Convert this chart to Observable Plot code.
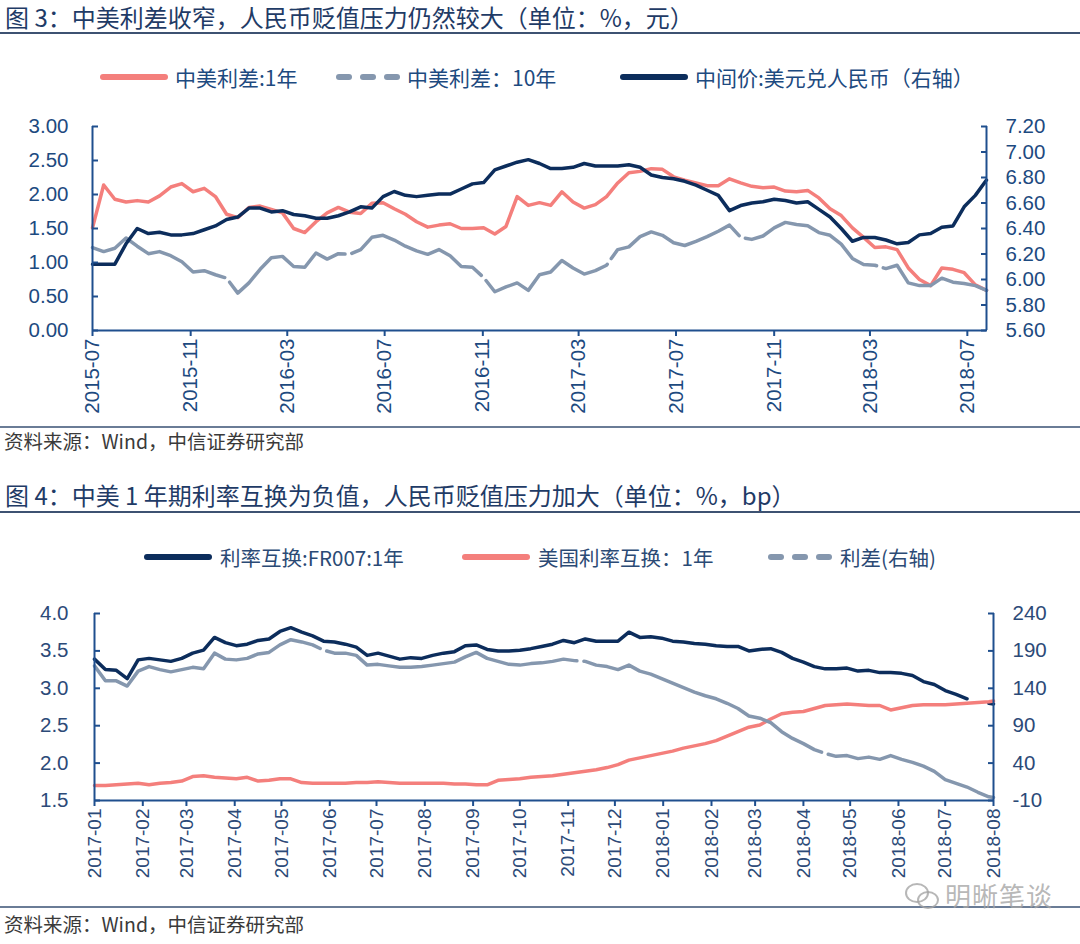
<!DOCTYPE html>
<html><head><meta charset="utf-8">
<script src="https://cdn.jsdelivr.net/npm/d3@7"></script>
<script src="https://cdn.jsdelivr.net/npm/@observablehq/plot@0.6"></script>
<style>
body{margin:0;background:#fff;}
#page{position:relative;width:1080px;height:944px;overflow:hidden;font-family:"Noto Sans CJK SC","Noto Sans",sans-serif;background:#fff;}
.abs{position:absolute;}
.title{left:5px;font-size:24px;color:#1f3b66;white-space:nowrap;line-height:30px;}
.rule{left:0;width:1080px;}
.src{left:4px;font-size:19.5px;color:#3a3a3a;line-height:24px;white-space:nowrap;}
.item{display:flex;align-items:center;white-space:nowrap;height:30px;}
.sw{display:inline-block;height:6px;border-radius:3px;}
.dash{display:inline-flex;gap:8px;}
.dash span{display:inline-block;width:16px;height:6px;border-radius:3px;}
.lt{font-size:21px;color:#1d4a80;margin-left:7px;}
.lt2{font-size:20.5px;color:#2b4a75;margin-left:8px;}
.wm{left:905px;top:876px;display:flex;align-items:center;gap:6px;color:rgba(165,165,165,0.8);font-size:26px;letter-spacing:1px;}
.wm .ic{position:relative;width:34px;height:28px;}
.wm .ic span{position:absolute;border:2px solid rgba(165,165,165,0.8);border-radius:50%;}
</style>
</head>
<body>
<div id="page">
  <div class="abs title" style="top:2px;">图 3：中美利差收窄，人民币贬值压力仍然较大（单位：%，元）</div>
  <div class="abs rule" style="top:32px;height:2px;background:#3d5272;"></div>
  <div id="legend3"></div>
  <div id="chart3" class="abs" style="left:0;top:100px;"></div>
  <div class="abs rule" style="top:426px;height:1.5px;background:#6a7c96;"></div>
  <div class="abs src" style="top:429px;">资料来源：Wind，中信证券研究部</div>

  <div class="abs title" style="top:480px;">图 4：中美 1 年期利率互换为负值，人民币贬值压力加大（单位：%，bp）</div>
  <div class="abs rule" style="top:511px;height:2px;background:#3d5272;"></div>
  <div id="legend4"></div>
  <div id="chart4" class="abs" style="left:0;top:590px;"></div>
  <div class="abs rule" style="top:906px;height:1.5px;background:#6a7c96;"></div>
  <div class="abs src" style="top:912px;">资料来源：Wind，中信证券研究部</div>
  <div class="abs wm"><div class="ic"><span style="left:0;top:2px;width:20px;height:16px;"></span><span style="left:12px;top:10px;width:18px;height:14px;"></span></div><span>明晰笔谈</span></div>
</div>
<script>
// ---------- Figure 3 data (biweekly observations from 2015-07-01) ----------
const fig3FirstDate = "2015-07-01";
const fig3StepDays = 14;
const fig3Spread1Y = [1.51,2.14,1.93,1.89,1.91,1.89,1.98,2.11,2.16,2.04,
  2.09,1.97,1.71,1.66,1.81,1.83,1.78,1.73,1.50,1.44,
  1.60,1.73,1.81,1.74,1.72,1.87,1.88,1.79,1.71,1.60,
  1.52,1.55,1.57,1.50,1.50,1.51,1.42,1.53,1.97,1.84,
  1.88,1.84,2.04,1.89,1.80,1.85,1.97,2.17,2.32,2.34,
  2.38,2.37,2.26,2.21,2.17,2.13,2.13,2.23,2.17,2.12,
  2.10,2.11,2.05,2.04,2.06,1.95,1.79,1.69,1.51,1.37,
  1.22,1.23,1.19,0.92,0.75,0.66,0.92,0.90,0.85,0.67,
  0.59];
const fig3Spread10Y = [1.22,1.16,1.21,1.36,1.24,1.13,1.16,1.10,1.01,0.86,
  0.88,0.82,0.77,0.55,0.70,0.90,1.07,1.09,0.94,0.93,
  1.14,1.05,1.13,1.12,1.19,1.37,1.40,1.33,1.24,1.17,
  1.12,1.19,1.10,0.94,0.93,0.78,0.57,0.64,0.70,0.59,
  0.82,0.86,1.03,0.92,0.83,0.88,0.96,1.19,1.23,1.38,
  1.45,1.40,1.29,1.25,1.31,1.38,1.46,1.55,1.37,1.34,
  1.39,1.51,1.59,1.56,1.54,1.44,1.40,1.27,1.06,0.97,
  0.96,0.91,0.96,0.70,0.66,0.66,0.77,0.71,0.69,0.66,
  0.59];
const fig3CNY = [6.12,6.12,6.12,6.28,6.40,6.36,6.37,6.35,6.35,6.36,
  6.39,6.42,6.47,6.49,6.56,6.56,6.53,6.54,6.51,6.50,
  6.48,6.48,6.50,6.53,6.57,6.56,6.65,6.69,6.66,6.65,
  6.66,6.67,6.67,6.71,6.75,6.76,6.86,6.89,6.92,6.94,
  6.91,6.87,6.87,6.88,6.91,6.89,6.89,6.89,6.90,6.88,
  6.82,6.80,6.79,6.77,6.74,6.70,6.66,6.54,6.58,6.60,
  6.61,6.63,6.62,6.60,6.61,6.55,6.49,6.40,6.30,6.33,
  6.33,6.31,6.28,6.29,6.35,6.36,6.41,6.42,6.57,6.66,
  6.78];
const fig3TickLabels = ["2015-07","2015-11","2016-03","2016-07","2016-11","2017-03","2017-07","2017-11","2018-03","2018-07"];
const fig3LeftTicks = [0,0.5,1,1.5,2,2.5,3];
const fig3RightTicks = [5.6,5.8,6.0,6.2,6.4,6.6,6.8,7.0,7.2];
const fig3Names = ["中美利差:1年","中美利差：10年","中间价:美元兑人民币（右轴）"];

// ---------- Figure 4 data (weekly observations from 2017-01-01, last 2018-08-01) ----------
const fig4FirstDate = "2017-01-01";
const fig4StepDays = 7;
const fig4LastDate = "2018-08-01";
const fig4FR007 = [3.39,3.25,3.24,3.13,3.38,3.40,3.38,3.36,3.40,3.47,
  3.51,3.68,3.61,3.57,3.59,3.64,3.66,3.76,3.81,3.75,
  3.70,3.63,3.62,3.59,3.55,3.44,3.47,3.43,3.39,3.41,
  3.40,3.44,3.47,3.49,3.57,3.58,3.52,3.50,3.50,3.51,
  3.53,3.56,3.59,3.64,3.61,3.66,3.63,3.63,3.63,3.75,
  3.68,3.69,3.67,3.63,3.62,3.60,3.59,3.57,3.56,3.56,
  3.50,3.52,3.53,3.48,3.40,3.35,3.29,3.26,3.26,3.27,
  3.23,3.24,3.21,3.21,3.20,3.17,3.09,3.05,2.97,2.92,
  2.86,null,2.80,2.79];
const fig4USSwap = [1.70,1.70,1.71,1.72,1.73,1.71,1.73,1.74,1.76,1.82,
  1.83,1.81,1.80,1.79,1.81,1.76,1.77,1.79,1.79,1.74,
  1.73,1.73,1.73,1.73,1.74,1.74,1.75,1.74,1.73,1.73,
  1.73,1.73,1.73,1.72,1.72,1.71,1.71,1.77,1.78,1.79,
  1.81,1.82,1.83,1.85,1.87,1.89,1.91,1.94,1.98,2.04,
  2.07,2.10,2.13,2.16,2.20,2.23,2.26,2.30,2.36,2.42,
  2.48,2.51,2.59,2.66,2.68,2.69,2.73,2.77,2.78,2.79,
  2.78,2.77,2.77,2.71,2.74,2.77,2.78,2.78,2.78,2.79,
  2.80,2.81,2.82,2.83];
const fig4SpreadBp = [170,150,150,143,163,169,165,162,165,168,
  166,187,179,178,180,186,188,198,205,202,
  198,191,187,187,184,171,172,170,168,168,
  169,171,173,175,182,188,180,176,172,171,
  173,174,176,179,177,176,171,169,165,171,
  163,159,153,147,141,135,130,126,120,113,
  103,100,94,82,73,66,58,53,49,50,
  46,48,45,50,45,41,36,29,18,13,
  8,1,-5,-6];
const fig4TickLabels = ["2017-01","2017-02","2017-03","2017-04","2017-05","2017-06","2017-07","2017-08","2017-09","2017-10","2017-11","2017-12","2018-01","2018-02","2018-03","2018-04","2018-05","2018-06","2018-07","2018-08"];
const fig4LeftTicks = [1.5,2.0,2.5,3.0,3.5,4.0];
const fig4RightTicks = [-10,40,90,140,190,240];
const fig4Names = ["利率互换:FR007:1年","美国利率互换：1年","利差(右轴)"];

// ---------- styles ----------
const PINK = "#f47f7c", GRAY = "#8597ae", NAVY = "#0c2d5c";
const AXIS = "#1f4f8e", TXT3 = "#1d4a80", TXT4 = "#2c4a78";

const parse = s => new Date((s.length === 7 ? s + "-01" : s) + "T00:00:00Z");
const fmt = d3.utcFormat("%Y-%m");

// ---------- Figure 3 ----------
{
  const d0 = parse(fig3FirstDate);
  const dates = fig3Spread1Y.map((_, i) => d3.utcDay.offset(d0, fig3StepDays * i));
  const dEnd = dates[dates.length - 1];
  const toLeft = v => v == null ? null : (v - 5.6) / 1.6 * 3;
  const fromLeft = p => 5.6 + p * 1.6 / 3;
  const rows = dates.map((date, i) => ({date, s1: fig3Spread1Y[i], s10: fig3Spread10Y[i], cny: toLeft(fig3CNY[i])}));
  const xTicks = fig3TickLabels.map(parse);
  const rightPos = fig3RightTicks.map(toLeft);
  const chart = Plot.plot({
    width: 1080, height: 320, marginTop: 26, marginBottom: 90, marginLeft: 92, marginRight: 94,
    x: {type: "utc", domain: [d0, dEnd]},
    y: {domain: [0, 3]},
    style: {fontFamily: "'Liberation Sans', Arial, sans-serif", fontSize: "20.5px", color: TXT3, background: "transparent", overflow: "visible"},
    marks: [
      Plot.line(rows, {x: "date", y: "s1", stroke: PINK, strokeWidth: 3.5}),
      Plot.line(rows, {x: "date", y: "s10", stroke: GRAY, strokeWidth: 3.5, strokeDasharray: "150,7"}),
      Plot.line(rows, {x: "date", y: "cny", stroke: NAVY, strokeWidth: 3.5}),
      Plot.ruleX([d0], {stroke: AXIS, strokeWidth: 2}),
      Plot.ruleX([dEnd], {stroke: AXIS, strokeWidth: 2}),
      Plot.ruleY([0], {stroke: AXIS, strokeWidth: 2}),
      Plot.axisY(fig3LeftTicks, {anchor: "left", tickSize: 0, tickPadding: 24, tickFormat: d => d.toFixed(2)}),
      Plot.axisY(fig3LeftTicks, {anchor: "left", tickSize: 6, dx: 6, tickFormat: () => "", stroke: AXIS, strokeWidth: 2}),
      Plot.axisY(rightPos, {anchor: "right", tickSize: 0, tickPadding: 19, tickFormat: d => fromLeft(d).toFixed(2)}),
      Plot.axisY(rightPos, {anchor: "right", tickSize: 6, dx: -6, tickFormat: () => "", stroke: AXIS, strokeWidth: 2}),
      Plot.axisX(xTicks, {anchor: "bottom", tickSize: 6, tickPadding: 2, tickRotate: -90, tickFormat: fmt, stroke: AXIS, strokeWidth: 2})
    ]
  });
  document.getElementById("chart3").appendChild(chart);
}

// ---------- Figure 4 ----------
{
  const d0 = parse(fig4FirstDate);
  const dates = fig4FR007.slice(0, -1).map((_, i) => d3.utcDay.offset(d0, fig4StepDays * i));
  dates.push(parse(fig4LastDate));
  const dEnd = parse(fig4LastDate);
  const toLeft = v => v == null ? null : 1.5 + (v + 10) / 100;
  const fromLeft = p => Math.round((p - 1.5) * 100 - 10);
  const rows = dates.map((date, i) => ({date, cn: fig4FR007[i], us: fig4USSwap[i], sp: toLeft(fig4SpreadBp[i])}));
  const xTicks = fig4TickLabels.map(parse);
  const rightPos = fig4RightTicks.map(toLeft);
  const chart = Plot.plot({
    width: 1080, height: 310, marginTop: 23, marginBottom: 100, marginLeft: 94, marginRight: 87,
    x: {type: "utc", domain: [d0, dEnd]},
    y: {domain: [1.5, 4.0]},
    style: {fontFamily: "'Liberation Sans', Arial, sans-serif", fontSize: "20.5px", color: TXT4, background: "transparent", overflow: "visible"},
    marks: [
      Plot.line(rows, {x: "date", y: "cn", stroke: NAVY, strokeWidth: 3.5}),
      Plot.line(rows, {x: "date", y: "us", stroke: PINK, strokeWidth: 3.5}),
      Plot.line(rows, {x: "date", y: "sp", stroke: GRAY, strokeWidth: 3.5, strokeDasharray: "260,7"}),
      Plot.ruleX([d0], {stroke: AXIS, strokeWidth: 2}),
      Plot.ruleX([dEnd], {stroke: AXIS, strokeWidth: 2}),
      Plot.ruleY([1.5], {stroke: AXIS, strokeWidth: 2}),
      Plot.axisY(fig4LeftTicks, {anchor: "left", tickSize: 0, tickPadding: 26, tickFormat: d => d.toFixed(1)}),
      Plot.axisY(fig4LeftTicks, {anchor: "left", tickSize: 6, dx: 6, tickFormat: () => "", stroke: AXIS, strokeWidth: 2}),
      Plot.axisY(rightPos, {anchor: "right", tickSize: 0, tickPadding: 19, tickFormat: d => String(fromLeft(d))}),
      Plot.axisY(rightPos, {anchor: "right", tickSize: 6, dx: -6, tickFormat: () => "", stroke: AXIS, strokeWidth: 2}),
      Plot.axisX(xTicks, {anchor: "bottom", tickSize: 6, tickPadding: 2, tickRotate: -90, tickFormat: fmt, fontSize: 19, stroke: AXIS, strokeWidth: 2})
    ]
  });
  document.getElementById("chart4").appendChild(chart);
}

// ---------- Legends ----------
function solid(color) { return `<span class="sw" style="width:68px;background:${color}"></span>`; }
function dashed(color) { return `<span class="dash">${[0,1,2].map(() => `<span style="background:${color}"></span>`).join("")}</span>`; }
function legend(id, top, items, cls) {
  const el = document.getElementById(id);
  el.innerHTML = items.map(it => `<div class="abs item" style="left:${it.left}px;top:${top}px;">${it.sw}<span class="${cls}">${it.name}</span></div>`).join("");
}
legend("legend3", 62, [
  {left: 100, sw: solid(PINK), name: fig3Names[0]},
  {left: 336, sw: dashed(GRAY), name: fig3Names[1]},
  {left: 620, sw: solid(NAVY), name: fig3Names[2]}
], "lt");
legend("legend4", 542, [
  {left: 144, sw: solid(NAVY), name: fig4Names[0]},
  {left: 462, sw: solid(PINK), name: fig4Names[1]},
  {left: 768, sw: dashed(GRAY), name: fig4Names[2]}
], "lt2");
</script>
</body></html>
